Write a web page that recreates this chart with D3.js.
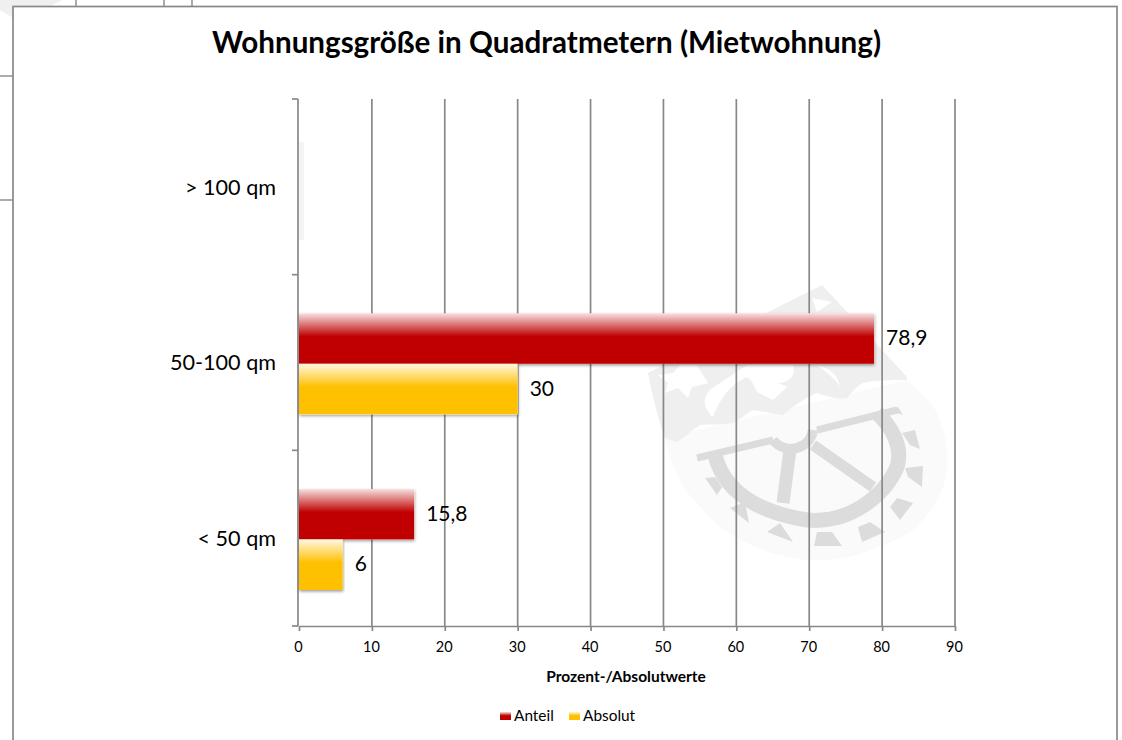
<!DOCTYPE html>
<html>
<head>
<meta charset="utf-8">
<script src="https://cdn.jsdelivr.net/npm/d3@7"></script>
<style>
  html, body { margin: 0; padding: 0; background: #fff; overflow: hidden; }
  text { font-family: Lato, "Open Sans", sans-serif; fill: #000; }
</style>
</head>
<body>
<div id="chart"></div>
<script>
const categories = ['> 100 qm', '50-100 qm', '< 50 qm'];
const seriesNames = ['Anteil', 'Absolut'];
const anteil = [null, 78.9, 15.8];
const absolut = [null, 30, 6];
const xTicks = [0, 10, 20, 30, 40, 50, 60, 70, 80, 90];

const colors = { Anteil: '#c00000', Absolut: '#ffc000' };
const lineColor = '#888888';
const lineWidth = 1.7;

const svg = d3.select('#chart').append('svg')
  .attr('width', 1122)
  .attr('height', 740);

const defs = svg.append('defs');

// Bars fade to white at the top, like the Excel "glossy" style
function barGradient(id, color) {
  const g = defs.append('linearGradient').attr('id', id)
    .attr('x1', 0).attr('y1', 0).attr('x2', 0).attr('y2', 1);
  g.append('stop').attr('offset', '0%').attr('stop-color', color).attr('stop-opacity', 0.12);
  g.append('stop').attr('offset', '46%').attr('stop-color', color).attr('stop-opacity', 1);
  g.append('stop').attr('offset', '100%').attr('stop-color', color).attr('stop-opacity', 1);
}
barGradient('gradAnteil', colors.Anteil);
barGradient('gradAbsolut', colors.Absolut);

const shadow = defs.append('filter').attr('id', 'barShadow')
  .attr('x', '-5%').attr('y', '-10%').attr('width', '110%').attr('height', '125%');
shadow.append('feDropShadow')
  .attr('dx', 0.5).attr('dy', 1.5).attr('stdDeviation', 1.5)
  .attr('flood-color', '#000').attr('flood-opacity', 0.4);

// Stuff of the page behind the chart: table lines, bit of a logo
svg.append('path').attr('fill', '#f0f0f0')
  .attr('d', 'M0,10 L20,22 L62,0 L0,0 Z');
const page = svg.append('g').attr('stroke', lineColor).attr('stroke-width', 1.4);
[[76, 0, 76, 6], [164, 0, 164, 6], [192, 0, 192, 6], [0, 76, 13, 76], [0, 200, 13, 200]]
  .forEach(d => page.append('line')
    .attr('x1', d[0]).attr('y1', d[1]).attr('x2', d[2]).attr('y2', d[3]));

// Chart frame
svg.append('rect')
  .attr('x', 13).attr('y', 6.5)
  .attr('width', 1104).attr('height', 745)
  .attr('fill', '#fff')
  .attr('stroke', lineColor).attr('stroke-width', lineWidth);

// Watermark crest behind the plot, traced by eye
const crest = svg.append('g');
crest.append('path').attr('fill', '#fafafa')
  .attr('d', 'M665,438 L670,457 C678,478 685,492 697,503 C712,522 728,535 747,543 C768,553 790,559 810,560 C830,561 848,558 863,553 C882,546 898,540 913,530 C928,516 938,502 943,487 C948,475 948,465 947,453 C947,438 942,425 937,413 C930,400 918,390 907,380 Z');
crest.append('path').attr('fill', '#efefef')
  .attr('d', 'M648,373 L822,285 L907,377 L907,380 C890,380 875,380 863,383 C855,387 852,393 847,398 C837,400 827,396 817,393 C808,396 800,402 793,407 L783,415 C773,414 763,411 753,410 C745,414 740,420 733,423 C722,425 711,424 700,425 C692,430 685,437 677,442 L665,438 C658,418 652,395 648,373 Z');
crest.append('path').attr('fill', '#fff')
  .attr('d', 'M658,375 L673,373 L680,365 L697,365 L708,383 L692,387 L688,398 L678,388 L665,393 L668,383 Z');
crest.append('path').attr('fill', '#fff')
  .attr('d', 'M713,417 C700,405 703,393 717,385 L747,365 L793,365 C797,377 787,383 778,383 L787,387 L773,400 L757,392 C752,380 748,376 745,378 C730,385 720,398 713,417 Z');
crest.append('path').attr('fill', '#fff')
  .attr('d', 'M812,298 L832,302 L817,312 Z M817,365 C830,368 838,375 840,386 C834,378 826,372 817,365 Z');
const wheel = crest.append('g').attr('fill', 'none').attr('stroke', '#dcdcdc').attr('stroke-linecap', 'butt');
wheel.append('path').attr('stroke-width', 15)
  .attr('d', 'M715,455 C722,483 745,510 807,520 C850,524 885,495 897,467 C903,448 893,428 877,413');
wheel.append('path').attr('stroke-width', 7)
  .attr('d', 'M697,458 L773,440 M817,430 L897,410');
wheel.append('path').attr('stroke-width', 13)
  .attr('d', 'M790,450 L783,503');
wheel.append('path').attr('stroke-width', 11)
  .attr('d', 'M813,445 L873,487');
wheel.append('path').attr('stroke-width', 10)
  .attr('d', 'M773,440 C785,455 810,450 813,430');
crest.append('path').attr('fill', '#dcdcdc')
  .attr('d', 'M705,478 L715,477 L722,487 L717,495 Z M730,508 L745,502 L749,523 Z M767,532 L780,523 L793,542 Z M817,532 L832,532 L842,546 L814,546 Z M858,527 L870,522 L885,532 L862,542 Z M890,507 L897,498 L913,503 L900,520 Z M905,468 L923,466 L922,487 L908,477 Z M902,433 L915,430 L920,449 L910,445 Z M887,410 L898,407 L903,415 Z');

// Scales
const margin = { left: 299, right: 955, top: 99, bottom: 626 };
const x = d3.scaleLinear().domain([0, 90]).range([margin.left, margin.right]);
const y = d3.scaleBand().domain(categories).range([margin.top, margin.bottom]);
// Excel gap width: the two bars sit in the middle of the band
const inner = d3.scaleBand().domain(seriesNames)
  .range([y.bandwidth() * 0.22, y.bandwidth() * 0.795]);

// Gridlines
svg.append('g').selectAll('line')
  .data(xTicks.slice(1))
  .join('line')
    .attr('x1', d => x(d)).attr('x2', d => x(d))
    .attr('y1', margin.top).attr('y2', margin.bottom)
    .attr('stroke', lineColor).attr('stroke-width', lineWidth);

// Faint shadow left over from the empty top bars
svg.append('rect')
  .attr('x', x(0)).attr('y', 142)
  .attr('width', 5).attr('height', 98)
  .attr('fill', '#f4f4f4');

// X axis
const xAxis = svg.append('g')
  .attr('transform', 'translate(0,' + margin.bottom + ')')
  .call(d3.axisBottom(x).tickValues(xTicks).tickSize(5).tickPadding(11).tickSizeOuter(0));
xAxis.select('.domain').attr('stroke', lineColor).attr('stroke-width', lineWidth);
xAxis.selectAll('line').attr('stroke', lineColor).attr('stroke-width', lineWidth);
xAxis.selectAll('text').style('font-size', '14.5px').attr('dx', -1).attr('fill', '#000');

// Y axis, ticks sit on the band edges
const yAxis = svg.append('g');
yAxis.append('line')
  .attr('x1', margin.left - 1).attr('x2', margin.left - 1)
  .attr('y1', margin.top).attr('y2', margin.bottom)
  .attr('stroke', lineColor).attr('stroke-width', lineWidth);
yAxis.selectAll('.edge')
  .data(categories.map(c => y(c)).concat([margin.bottom]))
  .join('line')
    .attr('class', 'edge')
    .attr('x1', margin.left - 7).attr('x2', margin.left - 1)
    .attr('y1', d => d).attr('y2', d => d)
    .attr('stroke', lineColor).attr('stroke-width', lineWidth);
yAxis.selectAll('text')
  .data(categories)
  .join('text')
    .attr('x', 276)
    .attr('y', d => y(d) + y.bandwidth() / 2 + 1)
    .attr('dy', '0.32em')
    .attr('text-anchor', 'end')
    .style('font-size', '21.6px')
    .text(d => d);

// Bars and value labels
const series = [
  { name: 'Anteil', values: anteil, fill: 'url(#gradAnteil)' },
  { name: 'Absolut', values: absolut, fill: 'url(#gradAbsolut)' }
];
const fmt = v => String(v).replace('.', ',');

series.forEach(s => {
  const rows = categories
    .map((c, i) => ({ cat: c, value: s.values[i] }))
    .filter(d => d.value !== null);

  svg.append('g').selectAll('rect')
    .data(rows)
    .join('rect')
      .attr('x', x(0))
      .attr('y', d => y(d.cat) + inner(s.name))
      .attr('width', d => x(d.value) - x(0))
      .attr('height', inner.bandwidth())
      .attr('fill', '#fff')
      .attr('filter', 'url(#barShadow)');

  svg.append('g').selectAll('rect')
    .data(rows)
    .join('rect')
      .attr('x', x(0))
      .attr('y', d => y(d.cat) + inner(s.name))
      .attr('width', d => x(d.value) - x(0))
      .attr('height', inner.bandwidth())
      .attr('fill', s.fill);

  svg.append('g').selectAll('text')
    .data(rows)
    .join('text')
      .attr('x', d => x(d.value) + 12)
      .attr('y', d => y(d.cat) + inner(s.name) + inner.bandwidth() / 2)
      .attr('dy', '0.32em')
      .style('font-size', '21px')
      .text(d => fmt(d.value));
});

// Title and axis title
svg.append('text')
  .attr('x', 546.5).attr('y', 53)
  .attr('text-anchor', 'middle')
  .style('font-size', '29.6px').style('font-weight', 700)
  .text('Wohnungsgröße in Quadratmetern (Mietwohnung)');

svg.append('text')
  .attr('x', 626).attr('y', 682)
  .attr('text-anchor', 'middle')
  .style('font-size', '15.5px').style('font-weight', 700)
  .text('Prozent-/Absolutwerte');

// Legend
const legendX = [500, 569];
const legend = svg.append('g').selectAll('g')
  .data(seriesNames)
  .join('g')
    .attr('transform', (d, i) => 'translate(' + legendX[i] + ',712)');
legend.append('rect')
  .attr('width', 11).attr('height', 8)
  .attr('fill', d => 'url(#grad' + d + ')');
legend.append('text')
  .attr('x', 14).attr('y', 4)
  .attr('dy', '0.35em')
  .style('font-size', '15.4px')
  .text(d => d);
</script>
</body>
</html>
